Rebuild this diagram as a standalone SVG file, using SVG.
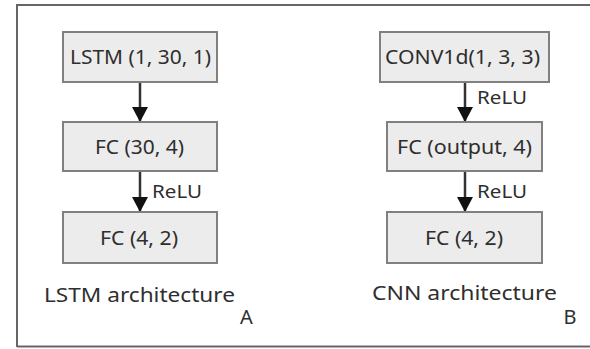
<svg xmlns="http://www.w3.org/2000/svg" width="590" height="349" viewBox="0 0 590 349">
<defs>
<style>
.box{fill:#ececec;stroke:#808080;stroke-width:2}
.t{font-family:"Noto Sans","Open Sans","Liberation Sans",sans-serif;font-size:20px;fill:#2e2e2e;text-anchor:middle}
.l{font-family:"Noto Sans","Open Sans","Liberation Sans",sans-serif;font-size:18px;fill:#2e2e2e}
.c{stroke:#333;stroke-width:2.5;fill:none}
</style>
<marker id="ah" markerWidth="16" markerHeight="16" refX="15" refY="8" orient="auto" markerUnits="userSpaceOnUse">
<path d="M0,0 L15,8 L0,16 Z" fill="#111"/>
</marker>
</defs>
<rect width="590" height="349" fill="#fff"/>
<path d="M17,347 L17,5 L590,5 M17,346.500 L590,346.500" fill="none" stroke="#666" stroke-width="2"/>
<g id="connectors">
<line class="c" x1="140" y1="82" x2="140" y2="122" marker-end="url(#ah)"/>
<line class="c" x1="140" y1="171" x2="140" y2="212" marker-end="url(#ah)"/>
<line class="c" x1="465" y1="82" x2="465" y2="122" marker-end="url(#ah)"/>
<line class="c" x1="465" y1="171" x2="465" y2="212" marker-end="url(#ah)"/>
<text class="l" x="152" y="198" textLength="50" lengthAdjust="spacingAndGlyphs">ReLU</text>
<text class="l" x="477" y="104" textLength="50" lengthAdjust="spacingAndGlyphs">ReLU</text>
<text class="l" x="477" y="198" textLength="50" lengthAdjust="spacingAndGlyphs">ReLU</text>
</g>
<g id="lstm"><rect class="box" x="63" y="32" width="154" height="50"/><text class="t" x="140.500" y="64" textLength="141" lengthAdjust="spacingAndGlyphs">LSTM (1, 30, 1)</text></g>
<g id="fc1"><rect class="box" x="63" y="122" width="154" height="49"/><text class="t" x="139.500" y="154" textLength="89" lengthAdjust="spacingAndGlyphs">FC (30, 4)</text></g>
<g id="fc2"><rect class="box" x="63" y="212" width="154" height="51"/><text class="t" x="139" y="245" textLength="78" lengthAdjust="spacingAndGlyphs">FC (4, 2)</text></g>
<g id="conv"><rect class="box" x="380" y="32" width="169" height="50"/><text class="t" x="462.500" y="64" textLength="155" lengthAdjust="spacingAndGlyphs">CONV1d(1, 3, 3)</text></g>
<g id="fc3"><rect class="box" x="387" y="122" width="155" height="49"/><text class="t" x="464.500" y="154" textLength="135" lengthAdjust="spacingAndGlyphs">FC (output, 4)</text></g>
<g id="fc4"><rect class="box" x="387" y="212" width="155" height="51"/><text class="t" x="464" y="245" textLength="78" lengthAdjust="spacingAndGlyphs">FC (4, 2)</text></g>
<g id="labelA"><text class="t" x="139.500" y="302" textLength="191" lengthAdjust="spacingAndGlyphs">LSTM architecture</text><text class="t" x="246.500" y="324">A</text></g>
<g id="labelB"><text class="t" x="464.500" y="300" textLength="185" lengthAdjust="spacingAndGlyphs">CNN architecture</text><text class="t" x="570" y="324">B</text></g>
</svg>
